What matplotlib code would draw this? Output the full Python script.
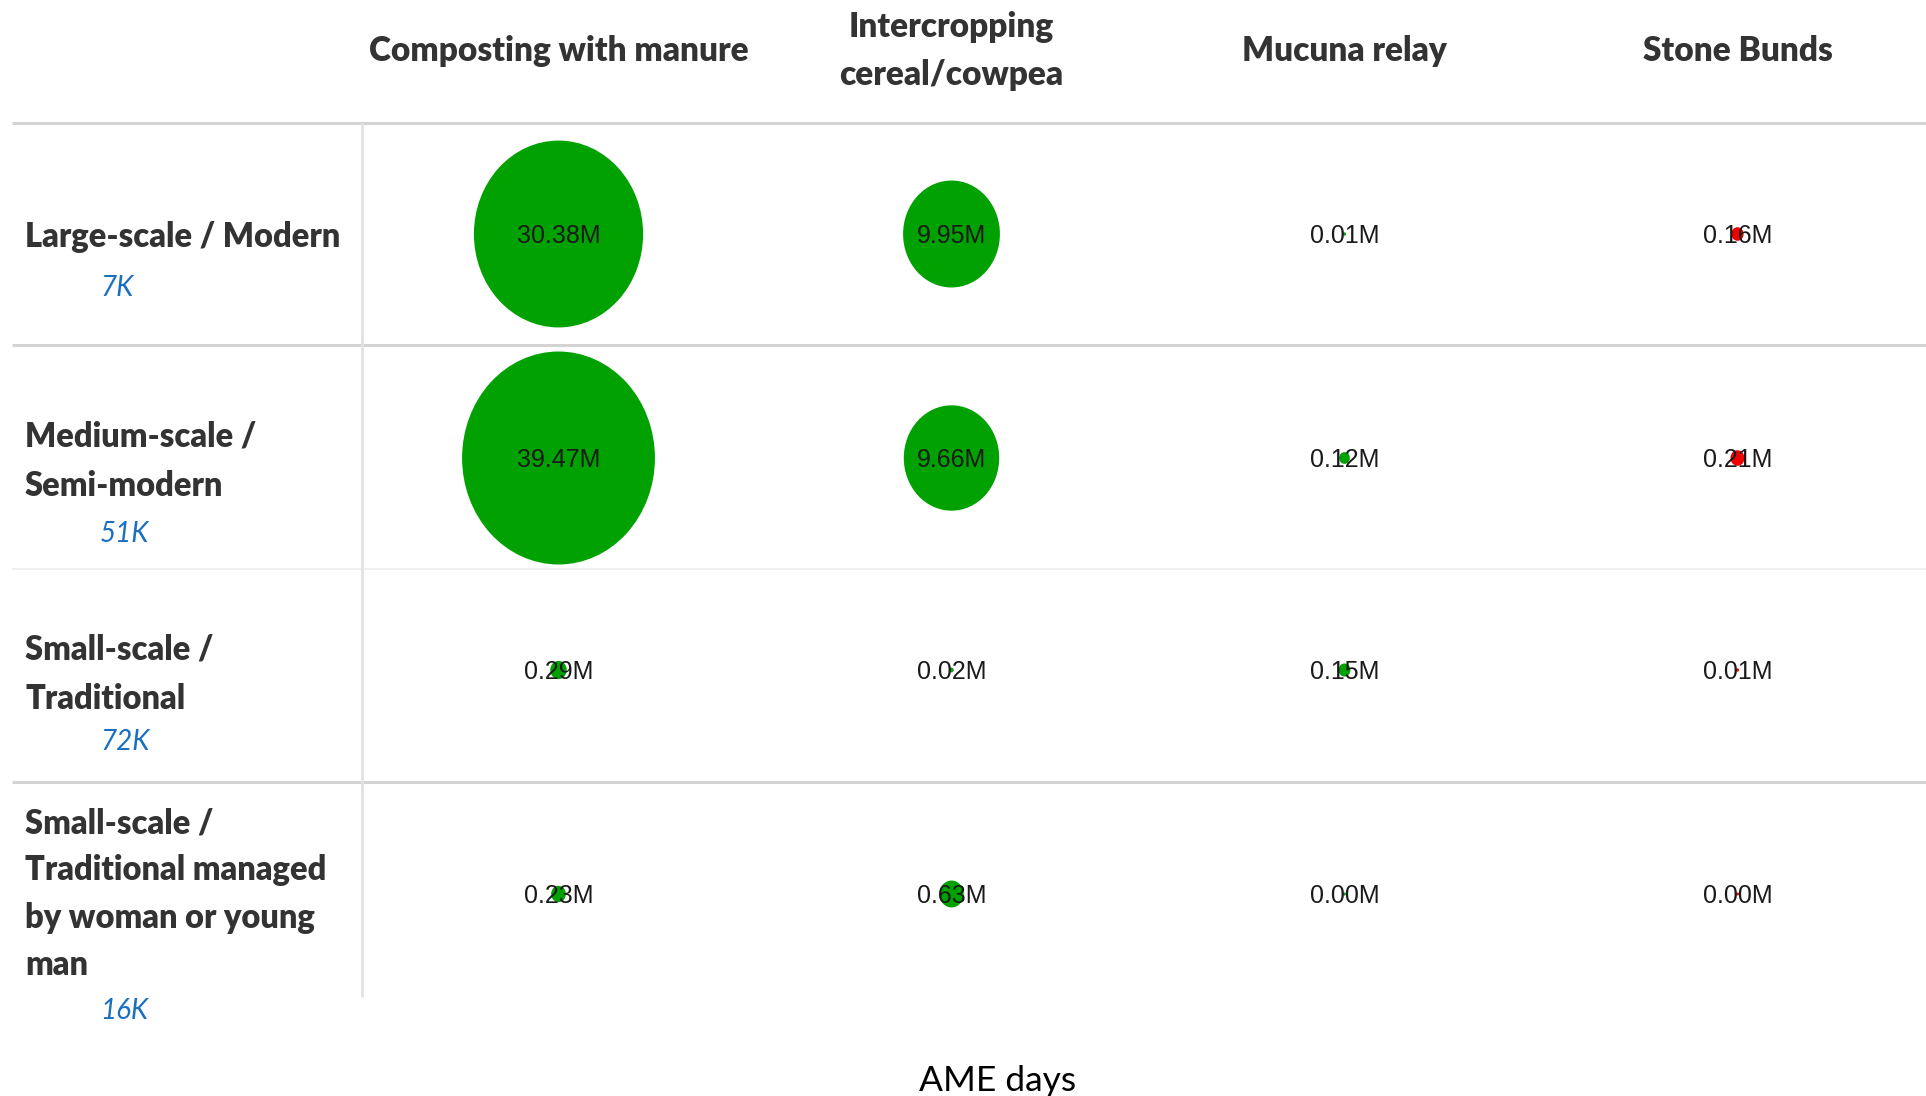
import matplotlib
matplotlib.use("Agg")
import matplotlib.pyplot as plt
from matplotlib.patches import Ellipse
import numpy as np

# ---- data: AME days (millions) per practice, rows follow farm_types ----
practices = ["Composting with manure", "Intercropping\ncereal/cowpea", "Mucuna relay", "Stone Bunds"]
farm_types = [
    "Large-scale / Modern",
    "Medium-scale /\nSemi-modern",
    "Small-scale /\nTraditional",
    "Small-scale /\nTraditional managed\nby woman or young\nman",
]
farm_counts = ["7K", "51K", "72K", "16K"]

composting = [30.38, 39.47, 0.29, 0.23]
intercropping = [9.95, 9.66, 0.02, 0.63]
mucuna = [0.01, 0.12, 0.15, 0.00]
stone_bunds = [0.16, 0.21, 0.01, 0.00]

# ---- layout (pixels) ----
W, H = 1926, 1096
ROW_LINES = [123, 345, 569, 782]
PANE_BOTTOM = 997
ROW_Y = np.array([234, 458, 670, 894])
LABEL_Y = [237, 461, 674, 894]
LABEL_SPACING = [1.68, 1.68, 1.68, 1.58]
COUNT_Y = [288, 534, 742, 1011]
PANE_LEFT = 362
COL_W = 393
GRID_LEFT = 12
# bubble area scales with value; width/height px per sqrt(million)
DOT_W, DOT_H = 30.7, 33.9
DOT_MIN = 3

GREEN = "#02a102"
RED = "#ee0000"
mark_colors = [GREEN, GREEN, GREEN, RED]
TXT = "#333333"
HEAD_FONT = ["Lato", "DejaVu Sans"]
MARK_FONT = ["Liberation Sans", "DejaVu Sans"]

fig = plt.figure(figsize=(W / 100, H / 100), dpi=100)
fig.patch.set_facecolor("white")
ax = fig.add_axes([0, 0, 1, 1])
ax.set_xlim(0, W)
ax.set_ylim(H, 0)
ax.axis("off")

# grid lines
for k, y in enumerate(ROW_LINES):
    if k == 2:
        ax.hlines(y, GRID_LEFT, W, color="#ececec", lw=1.2)
    else:
        ax.hlines(y, GRID_LEFT, W, color="#d4d4d4", lw=2.2)
ax.vlines(PANE_LEFT, ROW_LINES[0], PANE_BOTTOM, color="#e2e2e2", lw=2)

col_x = PANE_LEFT + COL_W * (np.arange(len(practices)) + 0.5)

# column headers
for x, name in zip(col_x, practices):
    ax.text(x, 51, name, ha="center", va="center", fontsize=24, fontweight="heavy",
            color=TXT, family=HEAD_FONT, linespacing=1.6)

# row headers with farm counts underneath
for y, ls, cy, name, cnt in zip(LABEL_Y, LABEL_SPACING, COUNT_Y, farm_types, farm_counts):
    ax.text(25, y, name, ha="left", va="center", fontsize=23.5, fontweight="heavy",
            color=TXT, family=HEAD_FONT, linespacing=ls)
    ax.text(100, cy, cnt, ha="left", va="center",
            fontsize=20, style="italic", color="#1a6fc0", family=HEAD_FONT)

# bubbles
values = [composting, intercropping, mucuna, stone_bunds]
for x, vals, c in zip(col_x, values, mark_colors):
    for y, v in zip(ROW_Y, vals):
        r = np.sqrt(v)
        ax.add_patch(Ellipse((x, y), max(DOT_W * r, DOT_MIN), max(DOT_H * r, DOT_MIN),
                             facecolor=c, edgecolor="none"))
        ax.text(x, y + 2, f"{v:.2f}M", ha="center", va="center", fontsize=18,
                color="#1a1a1a", family=MARK_FONT)

ax.text(998, 1081, "AME days", ha="center", va="center", fontsize=25.5,
        color="black", family=["Lato", "DejaVu Sans"])

fig.savefig("out.png", dpi=100, facecolor="white")
